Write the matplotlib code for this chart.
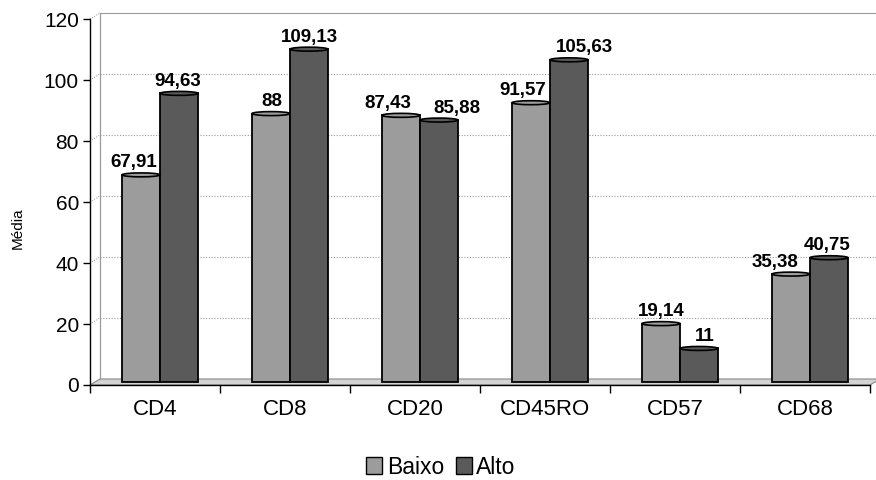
import matplotlib.pyplot as plt
import matplotlib.patches as mpatches
import numpy as np

#
# Data
#

categories = ["CD4", "CD8", "CD20", "CD45RO", "CD57", "CD68"]
baixo = [67.91, 88, 87.43, 91.57, 19.14, 35.38]
alto = [94.63, 109.13, 85.88, 105.63, 11, 40.75]
baixo_labels = ["67,91", "88", "87,43", "91,57", "19,14", "35,38"]
alto_labels = ["94,63", "109,13", "85,88", "105,63", "11", "40,75"]
yticks = [0, 20, 40, 60, 80, 100, 120]

#
# Settings
#

W, H = 876, 480
plt.rcParams['font.family'] = ['Liberation Sans', 'DejaVu Sans']
c_baixo = "#9c9c9c"
c_alto = "#5a5a5a"
grid_c = "#9a9a9a"
baixo_shift = [-7, 1, -13, -8, 0, -16]                                 # Label nudges (pixels), as in the original
alto_shift = [-1, 0, 18, 15, 6, -2]

fig = plt.figure(figsize=(W / 100, H / 100), dpi=100, facecolor="white")
x0, x1, y0, y1 = 90, 870, 385, 19                                     # Front axis box in pixels
ax = fig.add_axes([x0 / W, 1 - y0 / H, (x1 - x0) / W, (y0 - y1) / H])
ax.set_xlim(-0.5, 5.5)
ax.set_ylim(0, 120)

dx = 10 / ((x1 - x0) / 6)                                              # Depth offset in data units
dy = 6 * 120 / (y0 - y1)

#
# Walls, floor, grid
#

floor = mpatches.Polygon([(-0.5, 0), (5.5, 0), (5.5 + dx, dy), (-0.5 + dx, dy)],
                         closed=True, facecolor="#d4d4d4", edgecolor="#888888", lw=0.8, clip_on=False, zorder=1)
ax.add_patch(floor)
ax.plot([-0.5 + dx, -0.5 + dx], [dy, 120 + dy], color=grid_c, lw=0.9, clip_on=False, zorder=1)
for v in yticks[1:]:
    ls = "-" if v == 120 else (0, (1, 1.5))
    ax.plot([-0.5 + dx, 5.5 + dx], [v + dy, v + dy], color=grid_c, lw=0.8, ls=ls, clip_on=False, zorder=1)
    ax.plot([-0.5, -0.5 + dx], [v, v + dy], color=grid_c, lw=0.7, ls=(0, (1, 1.5)), clip_on=False, zorder=1)

#
# Bars (cylinder-like columns)
#

x = np.arange(len(categories))
bw = 38 / ((x1 - x0) / 6)
for vals, labs, shifts, col, side in [(baixo, baixo_labels, baixo_shift, c_baixo, -1),
                                      (alto, alto_labels, alto_shift, c_alto, 1)]:
    xc = x + dx / 2 + side * bw / 2
    ax.bar(xc, vals, bw, bottom=dy / 2, color=col, edgecolor="black", lw=1.3, zorder=3)
    for xi, v, lab, sh in zip(xc, vals, labs, shifts):
        cap = mpatches.Ellipse((xi, v + dy / 2), bw, 1.3, facecolor=col, edgecolor="black", lw=1.2, zorder=4)
        ax.add_patch(cap)
        ax.annotate(lab, (xi, v + dy / 2), xytext=(sh * 0.72, 2.5), textcoords="offset points",
                    ha="center", va="bottom", fontsize=13.5, fontweight="bold", zorder=5)

#
# Axes
#

for s in ["top", "right"]:
    ax.spines[s].set_visible(False)
ax.spines["left"].set_linewidth(1.0)
ax.spines["bottom"].set_linewidth(1.0)
ax.set_yticks(yticks)
ax.set_yticklabels([str(v) for v in yticks], fontsize=15)
ax.set_xticks(np.arange(-0.5, 6, 1))
ax.set_xticklabels([])
ax.set_xticks(x, minor=True)
ax.set_xticklabels(categories, minor=True, fontsize=16)
ax.tick_params(axis="x", which="minor", length=0, pad=10)
ax.tick_params(axis="x", which="major", length=6, width=1)
ax.tick_params(axis="y", length=5, width=1, pad=3)
ax.set_facecolor("none")
fig.text(18 / W, 1 - 228 / H, "Média", rotation=90, ha="center", va="center", fontsize=11)

handles = [mpatches.Patch(facecolor=c_baixo, edgecolor="black", lw=1), mpatches.Patch(facecolor=c_alto, edgecolor="black", lw=1)]
fig.legend(handles, ["Baixo", "Alto"], loc="center", bbox_to_anchor=(441 / W, 1 - 467 / H), ncol=2, frameon=False,
           fontsize=16.5, handlelength=0.7, handleheight=0.7, handletextpad=0.2, columnspacing=0.5)

plt.savefig("out.png", dpi=100)
